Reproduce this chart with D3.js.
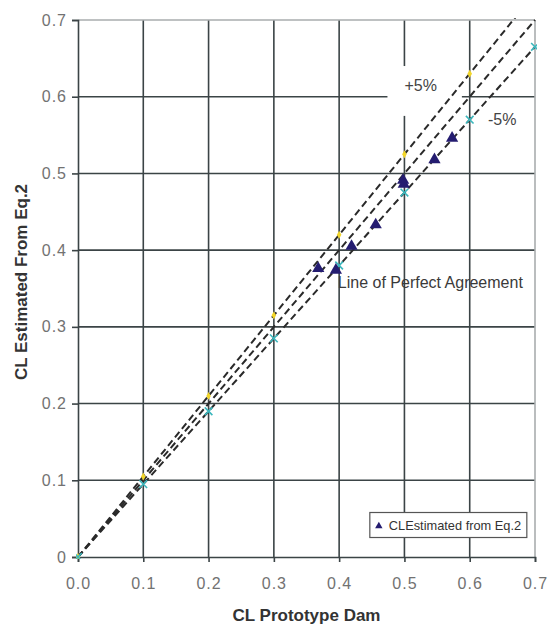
<!DOCTYPE html>
<html>
<head>
<meta charset="utf-8">
<script src="https://cdn.jsdelivr.net/npm/d3@7"></script>
<style>
  html, body { margin: 0; padding: 0; background: #fff; }
  svg { display: block; font-family: "Liberation Sans", Arial, sans-serif; }
</style>
</head>
<body>
<svg id="chart" width="548" height="624"></svg>
<script>
const ticks = [0, 0.1, 0.2, 0.3, 0.4, 0.5, 0.6, 0.7];
const xTickLabels = ['0.0', '0.1', '0.2', '0.3', '0.4', '0.5', '0.6', '0.7'];
const yTickLabels = ['0', '0.1', '0.2', '0.3', '0.4', '0.5', '0.6', '0.7'];

// reference lines
const refX = [0, 0.1, 0.2, 0.3, 0.4, 0.5, 0.6, 0.7];
const perfectY = [0, 0.1, 0.2, 0.3, 0.4, 0.5, 0.6, 0.7];
const plusY = [0, 0.105, 0.21, 0.315, 0.42, 0.525, 0.63, 0.735];
const minusY = [0, 0.095, 0.19, 0.285, 0.38, 0.475, 0.57, 0.665];

// CL estimated from Eq.2 vs prototype
const estX = [0.368, 0.395, 0.419, 0.456, 0.498, 0.499, 0.546, 0.573];
const estY = [0.376, 0.374, 0.405, 0.433, 0.491, 0.486, 0.518, 0.546];

const GRID = '#3b4446';
const NAVY = '#241c70';
const CYAN = '#3bb7bd';
const YELLOW = '#f2d629';
const TICK_TXT = '#727272';

const margin = { top: 20, left: 78, right: 13, bottom: 67 };
const W = 548, H = 624;
const innerW = W - margin.left - margin.right;
const innerH = H - margin.top - margin.bottom;

const svg = d3.select('#chart');
const x = d3.scaleLinear().domain([0, 0.7]).range([0, innerW]);
const y = d3.scaleLinear().domain([0, 0.7]).range([innerH, 0]);

const g = svg.append('g').attr('transform', `translate(${margin.left},${margin.top})`);

g.append('defs').append('clipPath').attr('id', 'plot-clip')
  .append('rect').attr('x', -2).attr('y', -2).attr('width', innerW + 4).attr('height', innerH + 4);

// grid
g.append('g')
  .selectAll('line').data(ticks.slice(1, -1)).join('line')
  .attr('x1', d => x(d)).attr('x2', d => x(d))
  .attr('y1', 0).attr('y2', innerH)
  .attr('stroke', GRID).attr('stroke-width', 1.6);
g.append('g')
  .selectAll('line').data(ticks.slice(1, -1)).join('line')
  .attr('x1', 0).attr('x2', innerW)
  .attr('y1', d => y(d)).attr('y2', d => y(d))
  .attr('stroke', GRID).attr('stroke-width', 1.6);

// light top / right frame
g.append('line').attr('x1', 0).attr('x2', innerW).attr('y1', 0).attr('y2', 0)
  .attr('stroke', '#a9adae').attr('stroke-width', 1.6);
g.append('line').attr('x1', innerW).attr('x2', innerW).attr('y1', 0).attr('y2', innerH)
  .attr('stroke', '#a9adae').attr('stroke-width', 1.6);

// white box behind the +5% label
g.append('rect')
  .attr('x', x(0.474)).attr('y', y(0.64))
  .attr('width', x(0.588) - x(0.474)).attr('height', y(0.575) - y(0.64))
  .attr('fill', '#fff');

// axes
g.append('g')
  .attr('transform', `translate(0,${innerH})`)
  .call(d3.axisBottom(x).tickValues(ticks).tickSize(5).tickFormat((d, i) => xTickLabels[i]))
  .call(a => a.select('.domain').attr('stroke', GRID).attr('stroke-width', 1.6))
  .call(a => a.selectAll('line').attr('stroke', GRID).attr('stroke-width', 1.6))
  .call(a => a.selectAll('text').attr('fill', TICK_TXT).attr('font-size', 16)
    .attr('font-family', '"Liberation Sans", Arial, sans-serif')
    .attr('letter-spacing', 1).attr('y', 31.5).attr('dy', 0));

g.append('g')
  .call(d3.axisLeft(y).tickValues(ticks).tickSize(6).tickFormat((d, i) => yTickLabels[i]))
  .call(a => a.select('.domain').attr('stroke', GRID).attr('stroke-width', 1.6))
  .call(a => a.selectAll('line').attr('stroke', GRID).attr('stroke-width', 1.6))
  .call(a => a.selectAll('text').attr('fill', TICK_TXT).attr('font-size', 16)
    .attr('font-family', '"Liberation Sans", Arial, sans-serif')
    .attr('letter-spacing', 1).attr('x', -11));

// dashed reference lines
const plot = g.append('g').attr('clip-path', 'url(#plot-clip)');
const line = d3.line().x(d => x(d[0])).y(d => y(d[1]));
[plusY, perfectY, minusY].forEach(ys => {
  plot.append('path')
    .datum(refX.map((v, i) => [v, ys[i]]))
    .attr('d', line)
    .attr('fill', 'none')
    .attr('stroke', '#2a2a2a')
    .attr('stroke-width', 2)
    .attr('stroke-dasharray', '7,4');
});

// +5% markers
plot.selectAll('path.plus').data(refX.map((v, i) => [v, plusY[i]]).filter(d => d[1] <= 0.7)).join('path')
  .attr('class', 'plus')
  .attr('transform', d => `translate(${x(d[0])},${y(d[1])})`)
  .attr('d', d3.symbol(d3.symbolDiamond, 18))
  .attr('fill', YELLOW);

// -5% markers
plot.selectAll('path.minus').data(refX.map((v, i) => [v, minusY[i]])).join('path')
  .attr('class', 'minus')
  .attr('transform', d => `translate(${x(d[0])},${y(d[1])})`)
  .attr('d', d3.symbol(d3.symbolTimes, 40))
  .attr('fill', 'none')
  .attr('stroke', CYAN)
  .attr('stroke-width', 1.6);

// estimated points
g.selectAll('path.est').data(estX.map((v, i) => [v, estY[i]])).join('path')
  .attr('class', 'est')
  .attr('transform', d => `translate(${x(d[0])},${y(d[1])})`)
  .attr('d', d3.symbol(d3.symbolTriangle, 65))
  .attr('fill', NAVY);

// annotations
g.append('text')
  .attr('x', x(0.525)).attr('y', y(0.608))
  .attr('text-anchor', 'middle')
  .attr('fill', '#444').attr('font-size', 16)
  .text('+5%');
g.append('text')
  .attr('x', x(0.628)).attr('y', y(0.563))
  .attr('fill', '#444').attr('font-size', 16)
  .text('-5%');
g.append('text')
  .attr('x', x(0.398)).attr('y', y(0.351))
  .attr('fill', '#3a3a3a').attr('font-size', 16)
  .text('Line of Perfect Agreement');

// legend
const lg = g.append('g').attr('transform', `translate(${x(0.447)},${y(0.058)})`);
lg.append('rect')
  .attr('width', 157).attr('height', 25)
  .attr('fill', '#fff').attr('stroke', '#555').attr('stroke-width', 1.2);
lg.append('path')
  .attr('transform', 'translate(9,13.5)')
  .attr('d', d3.symbol(d3.symbolTriangle, 24))
  .attr('fill', NAVY);
lg.append('text')
  .attr('x', 19).attr('y', 17.5)
  .attr('fill', '#333').attr('font-size', 12.8)
  .text('CLEstimated from Eq.2');

// axis titles
svg.append('text')
  .attr('x', margin.left + innerW / 2).attr('y', 621)
  .attr('text-anchor', 'middle')
  .attr('font-weight', 'bold').attr('font-size', 17).attr('fill', '#333')
  .text('CL Prototype Dam');
svg.append('text')
  .attr('transform', `translate(27,282) rotate(-90)`)
  .attr('text-anchor', 'middle')
  .attr('font-weight', 'bold').attr('font-size', 17).attr('fill', '#333')
  .text('CL Estimated From Eq.2');
</script>
</body>
</html>
